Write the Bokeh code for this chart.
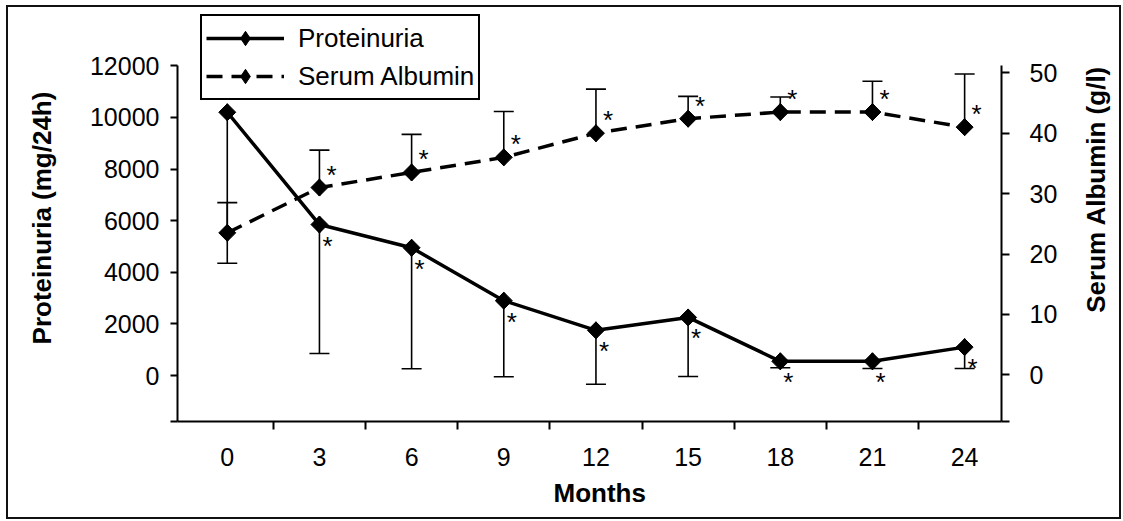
import numpy as np
from bokeh.plotting import figure
from bokeh.layouts import row
from bokeh.models import (Range1d, LinearAxis, FixedTicker, Legend, LegendItem, Title)
from bokeh.core.properties import value
from bokeh.embed import file_html
from bokeh.resources import INLINE

# ---- data ----
months = ["0", "3", "6", "9", "12", "15", "18", "21", "24"]
proteinuria = [10200, 5850, 4950, 2900, 1750, 2250, 550, 550, 1100]
prot_lower = [4350, 850, 260, -50, -340, -40, 300, 270, 270]
albumin = [23.5, 31.0, 33.5, 36.0, 40.0, 42.4, 43.5, 43.5, 41.0]
alb_upper = [28.5, 37.2, 39.8, 43.6, 47.3, 46.1, 46.0, 48.6, 49.8]
sig_prot = ["", "*", "*", "*", "*", "*", "*", "*", "*"]
sig_alb = ["", "*", "*", "*", "*", "*", "*", "*", "*"]

left_ticks = [0, 2000, 4000, 6000, 8000, 10000, 12000]
right_ticks = [0, 10, 20, 30, 40, 50]
left_min, left_max = -1782, 12000
right_min, right_max = -7.73, 51.2
left_view_top, right_view_top = 13988, 59.65

FONT = "Liberation Sans"
xs = list(range(len(months)))
H = 510

p = figure(width=1057, height=H, output_backend="svg", toolbar_location=None,
           x_range=Range1d(-0.54, 8.40), y_range=Range1d(left_min, left_view_top),
           min_border_left=169, min_border_right=64, min_border_top=7,
           min_border_bottom=96, outline_line_color=None)
p.xgrid.visible = False
p.ygrid.visible = False
p.extra_y_ranges = {"alb": Range1d(right_min, right_view_top)}

# x axis
xa = p.xaxis[0]
xa.ticker = FixedTicker(ticks=xs, minor_ticks=[i + 0.5 for i in xs[:-1]])
xa.major_label_overrides = {i: m for i, m in enumerate(months)}
xa.major_tick_out = 0
xa.major_tick_in = 0
xa.minor_tick_out = 8
xa.minor_tick_in = 0
xa.minor_tick_line_width = 2

# left axis
ya = p.yaxis[0]
ya.bounds = (left_min, left_max)
ya.ticker = FixedTicker(ticks=[left_min] + left_ticks)
ya.major_label_overrides = {left_min: ""}
ya.minor_tick_out = 0
ya.minor_tick_in = 0
ya.major_tick_out = 7
ya.major_tick_in = 0
ya.axis_label = "Proteinuria (mg/24h)"

# right axis (its title is drawn in the narrow panel beside the plot)
ra = LinearAxis(y_range_name="alb")
ra.bounds = (right_min, right_max)
ra.ticker = FixedTicker(ticks=[right_min] + right_ticks)
ra.major_label_overrides = {right_min: ""}
ra.minor_tick_out = 0
ra.minor_tick_in = 0
ra.major_tick_out = 8
ra.major_tick_in = 0
p.add_layout(ra, "right")

for ax in (xa, ya, ra):
    ax.axis_line_width = 2
    ax.axis_line_color = "black"
    ax.major_tick_line_width = 2
    ax.major_tick_line_color = "black"
    ax.minor_tick_line_color = "black"
    ax.major_label_text_font = FONT
    ax.major_label_text_font_size = "25px"
    ax.major_label_text_color = "black"
    ax.axis_label_text_font = FONT
    ax.axis_label_text_font_size = "26px"
    ax.axis_label_text_font_style = "bold"
    ax.axis_label_text_color = "black"

xa.major_label_standoff = 18
ya.major_label_standoff = 11
ya.axis_label_standoff = 30
ra.major_label_standoff = 20

xtitle = Title(text="Months", align="left", offset=376, text_font=FONT,
               text_font_size="26px", text_font_style="bold", text_color="black",
               standoff=14)
p.add_layout(xtitle, "below")

# error bars
p.segment(x0=xs, y0=proteinuria, x1=xs, y1=prot_lower, line_color="black", line_width=1.6)
p.scatter(x=xs, y=prot_lower, marker="dash", size=20, line_color="black", line_width=1.6)
p.segment(x0=xs, y0=albumin, x1=xs, y1=alb_upper, line_color="black", line_width=1.6,
          y_range_name="alb")
p.scatter(x=xs, y=alb_upper, marker="dash", size=20, line_color="black", line_width=1.6,
          y_range_name="alb")

# series
pl = p.line(xs, proteinuria, line_color="black", line_width=3.5)
pd = p.scatter(xs, proteinuria, marker="diamond", size=17, fill_color="black",
               line_color="black")
p.scatter(xs, proteinuria, marker="square", angle=np.pi / 4, size=12,
          fill_color="black", line_color="black")
al = p.line(xs, albumin, line_color="black", line_width=3.5, line_dash="16 9",
            y_range_name="alb")
ad = p.scatter(xs, albumin, marker="diamond", size=17, fill_color="black",
               line_color="black", y_range_name="alb")
p.scatter(xs, albumin, marker="square", angle=np.pi / 4, size=12,
          fill_color="black", line_color="black", y_range_name="alb")

# significance asterisks
p.text(x=xs, y=proteinuria, text=sig_prot, text_font=value(FONT), text_font_size="26px",
       text_align="center", text_baseline="alphabetic", x_offset=8, y_offset=21,
       text_color="black")
p.text(x=xs, y=albumin, text=sig_alb, text_font=value(FONT), text_font_size="26px",
       text_align="center", text_baseline="alphabetic", x_offset=12, y_offset=-13,
       text_color="black", y_range_name="alb")

legend = Legend(items=[LegendItem(label="Proteinuria", renderers=[pl, pd]),
                       LegendItem(label="Serum Albumin", renderers=[al, ad])],
                location=(23, 321), orientation="vertical",
                label_text_font=FONT, label_text_font_size="26px",
                label_text_color="black", glyph_width=78, glyph_height=36,
                label_height=36, label_standoff=14, spacing=2, padding=4,
                margin=0, border_line_color="black", border_line_width=2,
                border_line_alpha=1.0, background_fill_color="white",
                background_fill_alpha=1.0)
p.add_layout(legend, "center")

# narrow panel holding the right axis title
W2 = 54
p2 = figure(width=W2, height=H, output_backend="svg", toolbar_location=None,
            x_range=Range1d(0, W2), y_range=Range1d(0, H), x_axis_type=None,
            y_axis_type=None, min_border=0, outline_line_color=None)
p2.xgrid.visible = False
p2.ygrid.visible = False
p2.text(x=[30], y=[291], text=["Serum Albumin (g/l)"], angle=np.pi / 2,
        text_font=value(FONT), text_font_size="26px", text_font_style="bold",
        text_align="center", text_baseline="middle", text_color="black")

layout = row(p, p2, spacing=0)
layout.styles = {"outline": "2px solid #111111", "margin-left": "8px", "margin-top": "7px"}

open("out.html", "w").write(file_html(layout, INLINE))
